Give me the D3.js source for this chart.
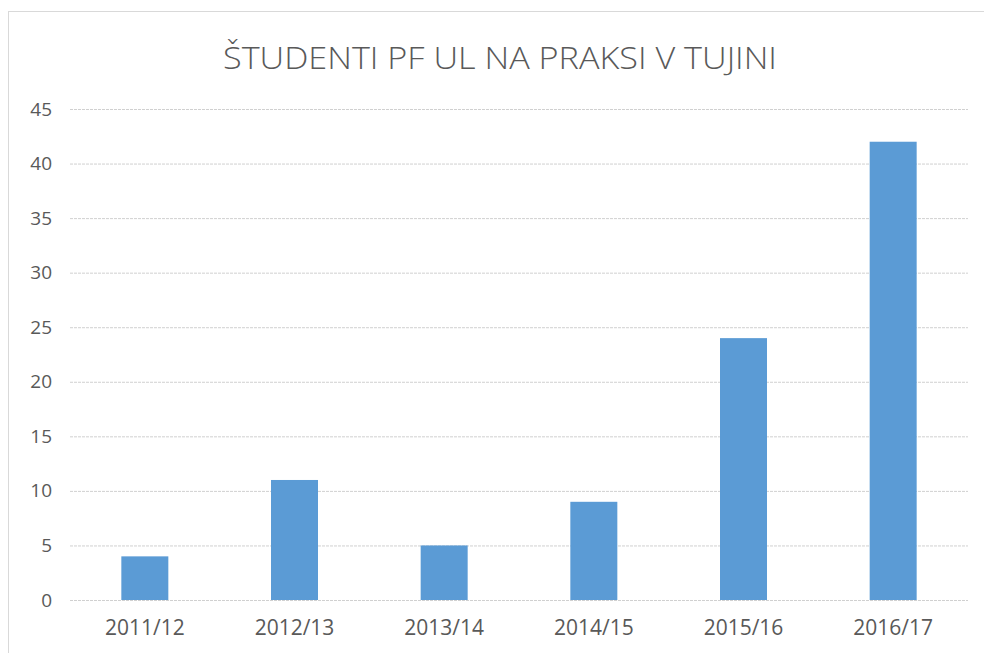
<!DOCTYPE html>
<html>
<head>
<meta charset="utf-8">
<script src="https://cdn.jsdelivr.net/npm/d3@7"></script>
<style>
  body { margin: 0; background: #fff; }
  text { font-family: "Open Sans", "Liberation Sans", sans-serif; fill: #595959; }
</style>
</head>
<body>
<div id="chart"></div>
<script>
// Chart data
var years = ["2011/12", "2012/13", "2013/14", "2014/15", "2015/16", "2016/17"];
var students = [4, 11, 5, 9, 24, 42];
var yTicks = [0, 5, 10, 15, 20, 25, 30, 35, 40, 45];

var svgWidth = 984;
var svgHeight = 653;

var svg = d3.select("#chart")
  .append("svg")
  .attr("width", svgWidth)
  .attr("height", svgHeight);

// Chart area border (runs off the right and bottom edge)
svg.append("rect")
  .attr("x", 8.5)
  .attr("y", 11.5)
  .attr("width", 1000)
  .attr("height", 700)
  .attr("fill", "none")
  .attr("stroke", "#d9d9d9");

// Title
svg.append("text")
  .attr("x", 500)
  .attr("y", 69)
  .attr("text-anchor", "middle")
  .attr("font-size", 31)
  .attr("font-weight", 300)
  .attr("textLength", 554)
  .attr("lengthAdjust", "spacingAndGlyphs")
  .text("ŠTUDENTI PF UL NA PRAKSI V TUJINI");

// Scales
var x = d3.scaleBand()
  .domain(years)
  .range([70, 968])
  .paddingInner(0.686)
  .paddingOuter(0.343);

var y = d3.scaleLinear()
  .domain([0, 45])
  .range([600, 109]);

// Gridlines + y labels
var yAxis = svg.append("g")
  .attr("transform", "translate(70,0)")
  .call(d3.axisLeft(y)
    .tickValues(yTicks)
    .tickSize(-898)
    .tickPadding(18));

yAxis.select(".domain").remove();
yAxis.selectAll(".tick line")
  .attr("stroke", "#d0d0d0")
  .attr("stroke-dasharray", "3,1");
yAxis.selectAll(".tick text")
  .attr("font-size", 19)
  .attr("fill", "#595959")
  .attr("font-family", "\"Open Sans\", sans-serif");

// Bars
svg.selectAll(".bar")
  .data(students)
  .enter()
  .append("rect")
  .attr("class", "bar")
  .attr("x", (d, i) => x(years[i]))
  .attr("y", d => y(d))
  .attr("width", x.bandwidth())
  .attr("height", d => y(0) - y(d))
  .attr("fill", "#5b9bd5");

// X labels
var xAxis = svg.append("g")
  .attr("transform", "translate(0,600)")
  .call(d3.axisBottom(x).tickSize(0).tickPadding(20));

xAxis.select(".domain").remove();
xAxis.selectAll(".tick text")
  .attr("font-size", 21)
  .attr("fill", "#595959")
  .attr("font-family", "\"Open Sans\", sans-serif");
</script>
</body>
</html>
